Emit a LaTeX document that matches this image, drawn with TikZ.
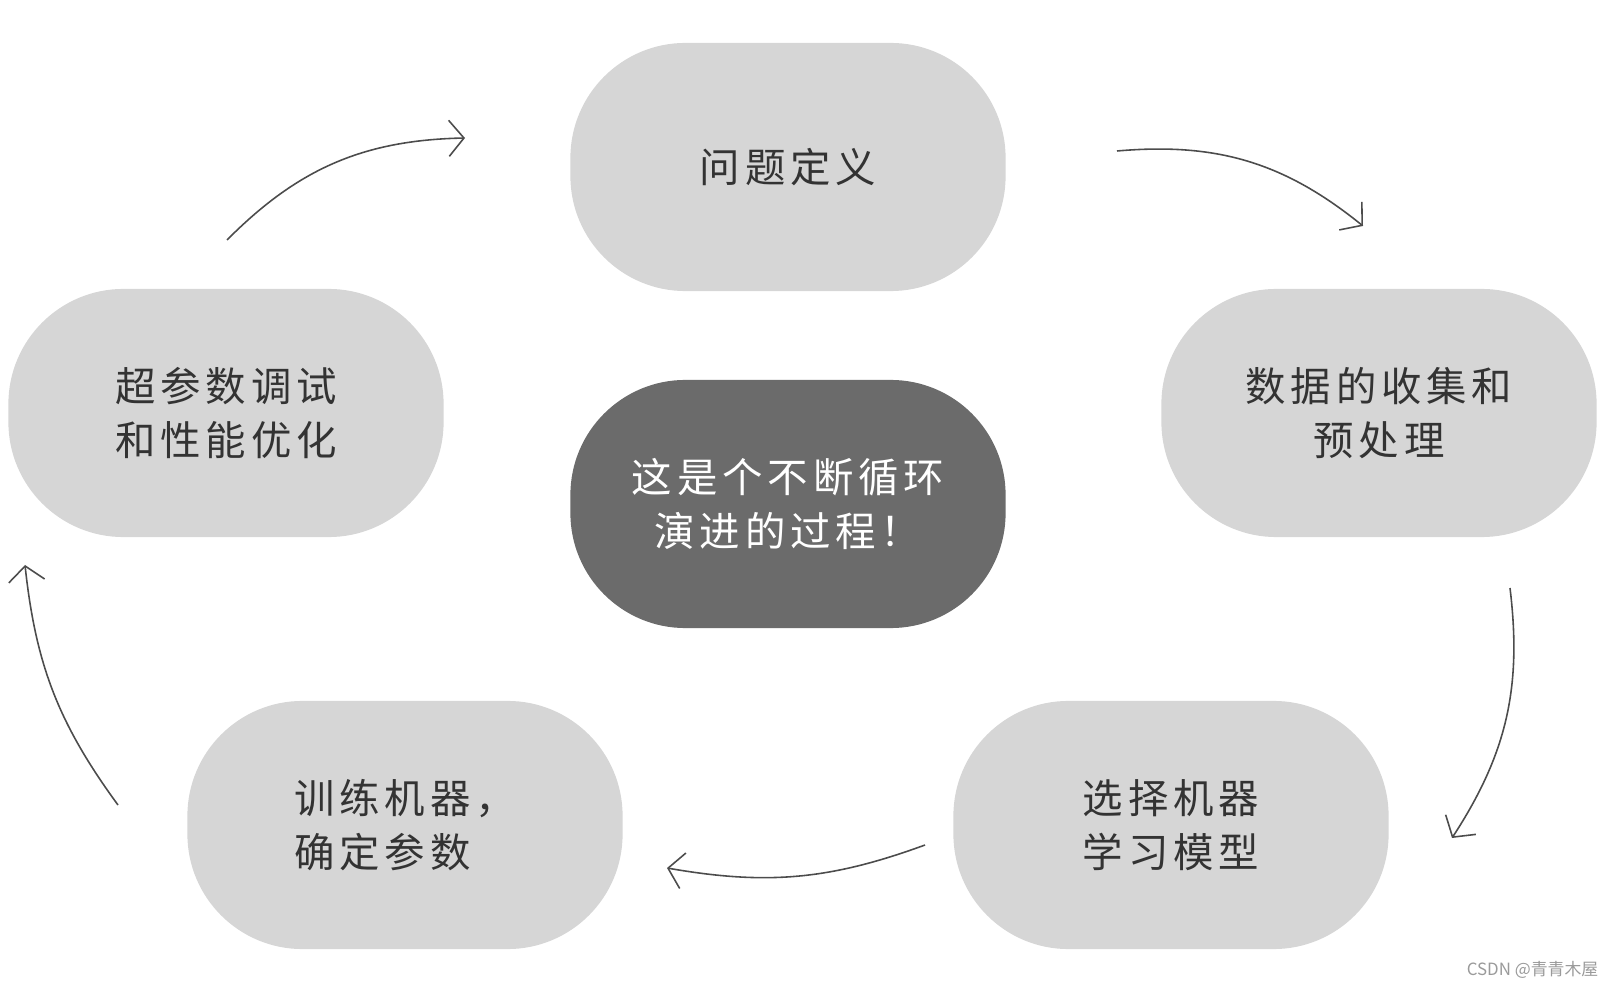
\documentclass[tikz,border=0pt]{standalone}
\usepackage{fontspec}
\setmainfont{Noto Sans CJK SC}
\newfontfamily\cjk[LetterSpace=12]{Noto Sans CJK SC}
\usepackage{xcolor}
\usetikzlibrary{arrows.meta}
\definecolor{boxgray}{HTML}{D6D6D6}
\definecolor{coregray}{HTML}{6B6B6B}
\definecolor{markgray}{HTML}{9A9A9A}

\begin{document}
\begin{tikzpicture}[
        x=0.01cm, y=-0.01cm,
        stage/.style={fill=boxgray, rounded corners=1.15cm, minimum width=4.35cm, minimum height=2.48cm, inner sep=0pt, align=center, font=\cjk\fontsize{11.5}{15.5}\selectfont, text=black!80},
        core/.style={stage, fill=coregray, text=white},
        flow/.style={-{Straight Barb[length=1.5mm, width=3.6mm]}, line width=0.45pt, black!70},
        watermark/.style={font=\fontsize{4.8}{6}\selectfont, text=markgray, anchor=east, inner sep=0pt}
    ]
        \useasboundingbox (0,0) rectangle (1614,988);
        \node[stage] (define) at (788,167) {问题定义};
        \node[stage] (data) at (1379,413) {数据的收集和\\预处理};
        \node[stage, align=left] (model) at (1171,825) {选择机器\\学习模型};
        \node[stage, align=left] (train) at (405,825) {训练机器，\\确定参数};
        \node[stage] (tune) at (226,413) {超参数调试\\和性能优化};
        \node[core] (cycle) at (788,504) {这是个不断循环\\演进的过程！};
        \node[watermark] (csdn) at (1599,970) {CSDN @青青木屋};

        \coordinate (tune-out) at (227,240);
        \coordinate (define-in) at (465,138);
        \coordinate (define-out) at (1117,151);
        \coordinate (data-in) at (1363,226);
        \coordinate (data-out) at (1510,588);
        \coordinate (model-in) at (1452,838);
        \coordinate (model-out) at (925,845);
        \coordinate (train-in) at (667,868);
        \coordinate (train-out) at (118,805);
        \coordinate (tune-in) at (25,565);

        \draw[flow] (tune-out) to[bend left=22] (define-in);
        \draw[flow] (define-out) to[bend left=22] (data-in);
        \draw[flow] (data-out) to[bend left=20] (model-in);
        \draw[flow] (model-out) to[bend left=15] (train-in);
        \draw[flow] (train-out) to[bend left=15] (tune-in);
    \end{tikzpicture}
\end{document}
